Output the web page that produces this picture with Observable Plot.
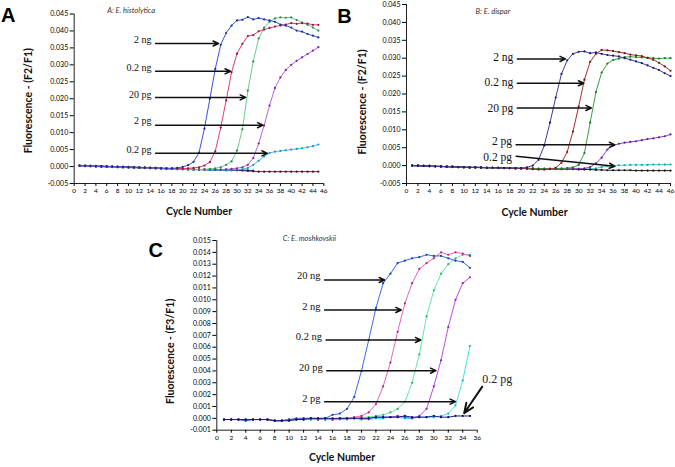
<!DOCTYPE html>
<html><head><meta charset="utf-8">
<script src="https://cdn.jsdelivr.net/npm/d3@7"></script>
<script src="https://cdn.jsdelivr.net/npm/@observablehq/plot@0.6"></script>
<style>
body{margin:0;background:#fff;}
#wrap{position:relative;width:675px;height:467px;overflow:hidden;background:#fff;}
#wrap svg{position:absolute;overflow:visible;}
</style></head><body><div id="wrap"></div>
<script>
// ---------- Panel A: E. histolytica ----------
const cyclesA = [1,2,3,4,5,6,7,8,9,10,11,12,13,14,15,16,17,18,19,20,21,22,23,24,25,26,27,28,29,30,31,32,33,34,35,36,37,38,39,40,41,42,43,44,45];
const a_2ng = [0.0003,0.0002,0.0002,0.0001,0.0001,0.0000,0.0000,-0.0001,-0.0001,-0.0002,
 -0.0002,-0.0003,-0.0003,-0.0004,-0.0004,-0.0005,-0.0005,-0.0005,-0.0004,-0.0001,
 0.0004,0.0014,0.0041,0.0112,0.0200,0.0288,0.0359,0.0394,0.0416,0.0431,
 0.0433,0.0441,0.0434,0.0438,0.0434,0.0431,0.0427,0.0419,0.0416,0.0410,
 0.0401,0.0398,0.0391,0.0386,0.0381];
const a_02ng = [0.0002,0.0002,0.0001,0.0001,0.0000,0.0000,-0.0001,-0.0001,-0.0002,-0.0002,
 -0.0003,-0.0003,-0.0004,-0.0004,-0.0005,-0.0005,-0.0006,-0.0006,-0.0006,-0.0006,
 -0.0005,-0.0004,-0.0002,0.0003,0.0013,0.0045,0.0115,0.0195,0.0278,0.0333,
 0.0362,0.0385,0.0388,0.0399,0.0404,0.0409,0.0413,0.0416,0.0419,0.0423,
 0.0421,0.0423,0.0422,0.0418,0.0418];
const a_20pg = [0.0002,0.0002,0.0001,0.0001,0.0000,-0.0001,-0.0001,-0.0002,-0.0002,-0.0003,
 -0.0003,-0.0004,-0.0004,-0.0005,-0.0005,-0.0006,-0.0007,-0.0007,-0.0008,-0.0008,
 -0.0009,-0.0009,-0.0009,-0.0008,-0.0007,-0.0005,-0.0002,0.0005,0.0015,0.0047,
 0.0110,0.0224,0.0310,0.0378,0.0410,0.0427,0.0437,0.0440,0.0439,0.0440,
 0.0432,0.0425,0.0418,0.0410,0.0401];
const a_2pg = [0.0002,0.0001,0.0001,0.0000,0.0000,-0.0001,-0.0001,-0.0002,-0.0002,-0.0003,
 -0.0003,-0.0004,-0.0004,-0.0005,-0.0005,-0.0006,-0.0006,-0.0007,-0.0007,-0.0008,
 -0.0008,-0.0009,-0.0009,-0.0009,-0.0009,-0.0009,-0.0009,-0.0008,-0.0007,-0.0005,
 -0.0002,0.0005,0.0025,0.0068,0.0121,0.0180,0.0232,0.0263,0.0285,0.0300,
 0.0312,0.0322,0.0332,0.0342,0.0352];
const a_02pg = [0.0002,0.0001,0.0001,0.0000,-0.0001,-0.0001,-0.0002,-0.0002,-0.0003,-0.0003,
 -0.0004,-0.0004,-0.0005,-0.0005,-0.0006,-0.0006,-0.0007,-0.0007,-0.0008,-0.0008,
 -0.0009,-0.0009,-0.0009,-0.0009,-0.0010,-0.0010,-0.0010,-0.0010,-0.0010,-0.0009,
 -0.0008,-0.0004,0.0005,0.0017,0.0030,0.0040,0.0044,0.0046,0.0048,0.0050,
 0.0052,0.0054,0.0057,0.0060,0.0065];
const a_ntcNavy = [0.0003,0.0002,0.0002,0.0001,0.0001,0.0000,0.0000,-0.0001,-0.0001,-0.0002,
 -0.0002,-0.0003,-0.0003,-0.0004,-0.0005,-0.0005,-0.0006,-0.0007,-0.0007,-0.0008,
 -0.0008,-0.0009,-0.0009,-0.0009,-0.0010,-0.0010,-0.0010,-0.0010,-0.0010,-0.0010,
 -0.0010,-0.0011,-0.0012];
const a_ntcMaroon = [0.0003,0.0003,0.0002,0.0002,0.0001,0.0001,0.0000,0.0000,-0.0001,-0.0001,
 -0.0002,-0.0002,-0.0003,-0.0004,-0.0004,-0.0005,-0.0006,-0.0006,-0.0007,-0.0007,
 -0.0008,-0.0008,-0.0009,-0.0009,-0.0010,-0.0010,-0.0010,-0.0011,-0.0011,-0.0011,
 -0.0012,-0.0013,-0.0014,-0.0015,-0.0015,-0.0015,-0.0015,-0.0015,-0.0015,-0.0015,
 -0.0015,-0.0015,-0.0015,-0.0015,-0.0015];
const arrowLabelsA = ["2 ng","0.2 ng","20 pg","2 pg","0.2 pg"];
const arrowFromA = [[15,0.0363],[15,0.0281],[15,0.0204],[15,0.0122],[15,0.0039]];
const arrowToA = [[26.6,0.0363],[28.8,0.0281],[31.6,0.0204],[34.8,0.0122],[35.6,0.0039]];

// ---------- Panel B: E. dispar ----------
const cyclesB = [1,2,3,4,5,6,7,8,9,10,11,12,13,14,15,16,17,18,19,20,21,22,23,24,25,26,27,28,29,30,31,32,33,34,35,36,37,38,39,40,41,42,43,44,45,46];
const b_2ng = [0.0000,0.0000,-0.0001,-0.0001,-0.0002,-0.0002,-0.0003,-0.0003,-0.0004,-0.0004,
 -0.0005,-0.0005,-0.0005,-0.0006,-0.0006,-0.0006,-0.0006,-0.0007,-0.0007,-0.0007,
 -0.0005,0.0000,0.0016,0.0056,0.0120,0.0190,0.0256,0.0294,0.0312,0.0318,
 0.0319,0.0314,0.0316,0.0312,0.0309,0.0307,0.0305,0.0300,0.0296,0.0291,
 0.0286,0.0280,0.0273,0.0267,0.0258,0.0250];
const b_02ng = [0.0000,0.0000,-0.0001,-0.0001,-0.0002,-0.0002,-0.0003,-0.0003,-0.0004,-0.0004,
 -0.0005,-0.0005,-0.0005,-0.0006,-0.0006,-0.0006,-0.0007,-0.0007,-0.0008,-0.0008,
 -0.0009,-0.0010,-0.0011,-0.0011,-0.0010,-0.0006,0.0008,0.0038,0.0095,0.0165,
 0.0240,0.0290,0.0312,0.0323,0.0322,0.0320,0.0317,0.0314,0.0310,0.0308,
 0.0306,0.0301,0.0296,0.0287,0.0277,0.0265];
const b_20pg = [0.0000,0.0000,-0.0001,-0.0001,-0.0002,-0.0002,-0.0003,-0.0003,-0.0004,-0.0004,
 -0.0005,-0.0005,-0.0005,-0.0006,-0.0006,-0.0006,-0.0007,-0.0007,-0.0007,-0.0008,
 -0.0008,-0.0008,-0.0009,-0.0009,-0.0009,-0.0009,-0.0008,-0.0007,-0.0005,0.0002,
 0.0035,0.0120,0.0205,0.0260,0.0285,0.0295,0.0299,0.0303,0.0304,0.0303,
 0.0302,0.0301,0.0300,0.0299,0.0300,0.0300];
const b_2pg = [0.0000,0.0000,-0.0001,-0.0001,-0.0002,-0.0002,-0.0003,-0.0003,-0.0004,-0.0004,
 -0.0005,-0.0005,-0.0005,-0.0006,-0.0006,-0.0006,-0.0007,-0.0007,-0.0007,-0.0008,
 -0.0008,-0.0008,-0.0009,-0.0009,-0.0009,-0.0009,-0.0009,-0.0009,-0.0009,-0.0009,
 -0.0008,-0.0004,0.0006,0.0022,0.0045,0.0056,0.0061,0.0064,0.0066,0.0068,
 0.0071,0.0074,0.0076,0.0079,0.0082,0.0087];
const b_02pg = [0.0000,-0.0001,-0.0001,-0.0002,-0.0002,-0.0003,-0.0003,-0.0004,-0.0004,-0.0005,
 -0.0005,-0.0005,-0.0006,-0.0006,-0.0006,-0.0007,-0.0007,-0.0007,-0.0008,-0.0008,
 -0.0008,-0.0009,-0.0009,-0.0009,-0.0009,-0.0009,-0.0009,-0.0009,-0.0009,-0.0009,
 -0.0009,-0.0009,-0.0008,-0.0004,-0.0001,0.0000,0.0001,0.0001,0.0002,0.0002,
 0.0002,0.0002,0.0003,0.0003,0.0003,0.0003];
const b_ntc = [0.0000,-0.0001,-0.0001,-0.0002,-0.0002,-0.0003,-0.0003,-0.0004,-0.0004,-0.0005,
 -0.0005,-0.0005,-0.0006,-0.0006,-0.0006,-0.0007,-0.0007,-0.0007,-0.0008,-0.0008,
 -0.0008,-0.0009,-0.0009,-0.0009,-0.0009,-0.0010,-0.0010,-0.0010,-0.0010,-0.0011,
 -0.0011,-0.0011,-0.0012,-0.0012,-0.0013,-0.0013,-0.0013,-0.0013,-0.0013,-0.0014,
 -0.0014,-0.0014,-0.0014,-0.0014,-0.0014,-0.0014];
const arrowLabelsB = ["2 ng","0.2 ng","20 pg","2 pg","0.2 pg"];
const arrowFromB = [[19.3,0.0298],[19.3,0.0230],[19.3,0.0161],[19.1,0.0058],[19.1,0.0026]];
const arrowToB = [[27.7,0.0298],[30.9,0.0230],[32.2,0.0161],[36.3,0.0058],[36.3,-0.0002]];

// ---------- Panel C: E. moshkovskii ----------
const cyclesC = [1,2,3,4,5,6,7,8,9,10,11,12,13,14,15,16,17,18,19,20,21,22,23,24,25,26,27,28,29,30,31,32,33,34,35];
const c_20ng = [-0.0001,-0.0001,-0.0001,-0.0002,-0.0001,-0.0001,-0.0001,-0.0002,-0.0002,-0.0001,
 0.0000,0.0000,0.0000,0.0000,0.0000,0.0003,0.0004,0.0008,0.0018,0.0040,
 0.0066,0.0093,0.0114,0.0122,0.0131,0.0133,0.0135,0.0136,0.0138,0.0137,
 0.0137,0.0135,0.0133,0.0132,0.0127];
const c_2ng = [-0.0001,-0.0001,-0.0001,-0.0001,-0.0001,-0.0001,-0.0001,-0.0002,-0.0002,-0.0001,
 -0.0001,0.0000,0.0000,-0.0001,0.0000,-0.0001,0.0000,0.0000,0.0001,0.0002,
 0.0005,0.0012,0.0027,0.0047,0.0073,0.0097,0.0114,0.0126,0.0131,0.0135,
 0.0140,0.0138,0.0140,0.0139,0.0137];
const c_02ng = [-0.0001,-0.0001,-0.0001,-0.0002,-0.0001,-0.0001,-0.0001,-0.0002,-0.0002,-0.0001,
 -0.0001,-0.0001,-0.0001,-0.0001,-0.0001,-0.0001,0.0000,0.0000,0.0000,0.0001,
 0.0001,0.0002,0.0003,0.0005,0.0008,0.0014,0.0030,0.0054,0.0086,0.0108,
 0.0122,0.0130,0.0135,0.0138,0.0138];
const c_20pg = [-0.0001,-0.0001,-0.0001,-0.0001,-0.0001,-0.0001,-0.0001,-0.0002,-0.0002,-0.0001,
 -0.0001,-0.0001,0.0000,-0.0001,-0.0001,-0.0001,0.0000,0.0000,0.0000,0.0000,
 0.0000,0.0001,0.0001,0.0001,0.0002,0.0001,0.0000,0.0002,0.0008,0.0027,
 0.0049,0.0077,0.0100,0.0114,0.0119];
const c_2pg = [-0.0001,-0.0001,-0.0001,-0.0001,-0.0001,-0.0001,-0.0001,-0.0002,-0.0002,-0.0002,
 -0.0001,-0.0001,-0.0001,-0.0001,-0.0001,-0.0001,-0.0001,-0.0001,0.0000,-0.0001,
 -0.0001,0.0000,0.0000,0.0001,0.0001,0.0000,0.0000,0.0001,0.0001,0.0001,
 0.0002,0.0004,0.0011,0.0032,0.0061];
const c_02pg = [-0.0001,-0.0001,-0.0001,-0.0001,-0.0001,-0.0001,-0.0001,-0.0002,-0.0002,-0.0002,
 -0.0001,-0.0001,0.0000,0.0000,0.0000,0.0000,0.0000,0.0000,0.0000,0.0000,
 0.0000,0.0001,0.0001,0.0001,0.0001,0.0002,0.0001,0.0001,0.0001,0.0002,
 0.0001,0.0001,0.0002,0.0002,0.0002];
const arrowLabelsC = ["20 ng","2 ng","0.2 ng","20 pg","2 pg"];
const arrowFromC = [[14.9,0.01167],[14.9,0.00914],[15.1,0.00661],[15.2,0.00402],[14.9,0.00141]];
const arrowToC = [[23.2,0.01167],[25.5,0.00914],[28.2,0.00661],[30.3,0.00402],[33.0,0.00141]];
const calloutC = {label: "0.2 pg", from: [36.7, 0.00267], to: [34.2, 0.00043]};

// tick labels
const xTicksAB = [0,2,4,6,8,10,12,14,16,18,20,22,24,26,28,30,32,34,36,38,40,42,44,46];
const xTicksC = [0,2,4,6,8,10,12,14,16,18,20,22,24,26,28,30,32,34,36];
const yTicksAB = [-0.005,0.000,0.005,0.010,0.015,0.020,0.025,0.030,0.035,0.040,0.045];
const yTicksC = [-0.001,0.000,0.001,0.002,0.003,0.004,0.005,0.006,0.007,0.008,0.009,0.010,0.011,0.012,0.013,0.014,0.015];

const SANS = "Lato, 'Open Sans', sans-serif";
const SERIF = "'Liberation Serif', 'DejaVu Serif', serif";

function rows(cycles, values) { return values.map((v, i) => ({cycle: cycles[i], value: v})); }
function arrowRows(labels, from, to) {
  return labels.map((l, i) => ({label: l, x1: from[i][0], y1: from[i][1], x2: to[i][0], y2: to[i][1], i}));
}

function panel(cfg) {
  const marks = [
    Plot.ruleX([0], {stroke: "#222", strokeWidth: 1}),
    Plot.ruleY([cfg.yDomain[0]], {stroke: "#222", strokeWidth: 1}),
    Plot.axisY({ticks: cfg.yTicks, tickFormat: d => d.toFixed(3), tickSize: 4, tickPadding: 2, fontSize: 7, label: null, fontFamily: SANS}),
    Plot.axisX({ticks: cfg.xTicks, tickFormat: d => String(d), tickSize: 3, tickPadding: 2, fontSize: 6.5, label: null, fontFamily: SANS})
  ];
  for (const s of cfg.series) {
    const data = rows(cfg.cycles, s.values);
    marks.push(Plot.line(data, {x: "cycle", y: "value", stroke: s.stroke, strokeWidth: 1}));
    marks.push(Plot.dot(data, {x: "cycle", y: "value", r: 1.1, fill: s.dot}));
  }
  const ar = arrowRows(cfg.arrowLabels, cfg.arrowFrom, cfg.arrowTo);
  marks.push(Plot.arrow(ar, {x1: "x1", y1: "y1", x2: "x2", y2: "y2", stroke: "#111", strokeWidth: 1.5, headLength: 6, headAngle: 50}));
  ar.forEach((a, i) => {
    marks.push(Plot.text([a], {x: "x1", y: "y1", text: "label", textAnchor: "end", dx: -4, dy: cfg.labelDy[i], fontFamily: SERIF, fontSize: cfg.labelSize, fill: "#111"}));
  });
  if (cfg.callout) {
    const c = cfg.callout;
    const cr = [{label: c.label, x1: c.from[0], y1: c.from[1], x2: c.to[0], y2: c.to[1]}];
    marks.push(Plot.arrow(cr, {x1: "x1", y1: "y1", x2: "x2", y2: "y2", stroke: "#111", strokeWidth: 2, headLength: 8, headAngle: 45}));
    marks.push(Plot.text(cr, {x: "x1", y: "y1", text: "label", textAnchor: "start", dx: 0, dy: -8, fontFamily: SERIF, fontSize: 12, fill: "#222"}));
  }
  marks.push(Plot.text(["Cycle Number"], {frameAnchor: "bottom", textAnchor: "middle", dy: cfg.xLabelDy, dx: cfg.xLabelDx, fontFamily: SANS, fontWeight: "bold", fontSize: 10.5, fill: "#111"}));
  marks.push(Plot.text([cfg.yLabel], {frameAnchor: "left", textAnchor: "middle", rotate: -90, dx: cfg.yLabelDx, dy: cfg.yLabelDy, fontFamily: SANS, fontWeight: "bold", fontSize: 10.5, fill: "#111"}));
  marks.push(Plot.text([cfg.title], {frameAnchor: "top-left", textAnchor: "start", dx: cfg.titleDx, dy: cfg.titleDy, fontFamily: SANS, fontStyle: "italic", fontSize: 7.5, fill: "#333"}));
  marks.push(Plot.text([cfg.letter], {frameAnchor: "top-left", textAnchor: "middle", dx: cfg.letterDx, dy: cfg.letterDy, fontFamily: "'Liberation Sans', Arial, sans-serif", fontWeight: "bold", fontSize: 20, fill: "#000"}));

  const svg = Plot.plot({
    width: cfg.width, height: cfg.height,
    marginLeft: cfg.ml, marginRight: cfg.mr, marginTop: cfg.mt, marginBottom: cfg.mb,
    x: {domain: cfg.xDomain},
    y: {domain: cfg.yDomain},
    style: {fontFamily: SANS, background: "transparent", overflow: "visible"},
    marks
  });
  svg.style.left = cfg.left + "px";
  svg.style.top = cfg.top + "px";
  document.getElementById("wrap").appendChild(svg);
}

panel({
  left: 0, top: 0, width: 335, height: 225, ml: 73.7, mr: 11.7, mt: 13.5, mb: 42,
  xDomain: [0, 46], yDomain: [-0.005, 0.045], xTicks: xTicksAB, yTicks: yTicksAB, cycles: cyclesA,
  series: [
    {values: a_ntcMaroon, stroke: "#6a2838", dot: "#4a1020"},
    {values: a_ntcNavy, stroke: "#23309a", dot: "#1a2070"},
    {values: a_02pg, stroke: "#44c4ec", dot: "#2090c0"},
    {values: a_2pg, stroke: "#b464e4", dot: "#7a20a0"},
    {values: a_20pg, stroke: "#66cc88", dot: "#2a8a40"},
    {values: a_02ng, stroke: "#d8407a", dot: "#a01030"},
    {values: a_2ng, stroke: "#3355dd", dot: "#1a2a9a"}
  ],
  arrowLabels: arrowLabelsA, arrowFrom: arrowFromA, arrowTo: arrowToA, labelDy: [-4,-3,-3,-4,-4], labelSize: 10,
  xLabelDy: 31, xLabelDx: 0, yLabel: "Fluorescence - (F2/F1)", yLabelDx: -46, yLabelDy: 2,
  title: "A: E. histolytica", titleDx: 33, titleDy: -6.5, letter: "A", letterDx: -66, letterDy: -6
});

panel({
  left: 335, top: 0, width: 340, height: 225, ml: 71, mr: 5, mt: 4, mb: 42,
  xDomain: [0, 46], yDomain: [-0.005, 0.045], xTicks: xTicksAB, yTicks: yTicksAB, cycles: cyclesB,
  series: [
    {values: b_02pg, stroke: "#44d4d4", dot: "#20a0a0"},
    {values: b_ntc, stroke: "#222", dot: "#111"},
    {values: b_2pg, stroke: "#9040c8", dot: "#6a1a90"},
    {values: b_20pg, stroke: "#3aa040", dot: "#1f7a20"},
    {values: b_02ng, stroke: "#a83030", dot: "#7a1010"},
    {values: b_2ng, stroke: "#3c3ca0", dot: "#1a1a70"}
  ],
  arrowLabels: arrowLabelsB, arrowFrom: arrowFromB, arrowTo: arrowToB, labelDy: [-2,-1,0,-4,1], labelSize: 11.5,
  xLabelDy: 32, xLabelDx: -4, yLabel: "Fluorescence - (F2/F1)", yLabelDx: -44, yLabelDy: 8,
  title: "B: E. dispar", titleDx: 69, titleDy: 4, letter: "B", letterDx: -62, letterDy: 4
});

panel({
  left: 130, top: 225, width: 415, height: 242, ml: 86.3, mr: 68.3, mt: 15, mb: 37.3,
  xDomain: [0, 36], yDomain: [-0.001, 0.015], xTicks: xTicksC, yTicks: yTicksC, cycles: cyclesC,
  series: [
    {values: c_2pg, stroke: "#48e0f0", dot: "#20b0d0"},
    {values: c_20pg, stroke: "#c448e0", dot: "#9020b0"},
    {values: c_02ng, stroke: "#66e6a6", dot: "#30b060"},
    {values: c_2ng, stroke: "#e264c8", dot: "#c02060"},
    {values: c_20ng, stroke: "#3a6ae8", dot: "#1a3ab0"},
    {values: c_02pg, stroke: "#20208a", dot: "#101060"}
  ],
  arrowLabels: arrowLabelsC, arrowFrom: arrowFromC, arrowTo: arrowToC, labelDy: [-4,-3,-3,-3,-3], labelSize: 10.5,
  callout: calloutC,
  xLabelDy: 31, xLabelDx: -5, yLabel: "Fluorescence - (F3/F1)", yLabelDx: -46, yLabelDy: 16,
  title: "C: E. moshkovskii", titleDx: 66, titleDy: -5, letter: "C", letterDx: -61, letterDy: 2
});
</script>
</body></html>
